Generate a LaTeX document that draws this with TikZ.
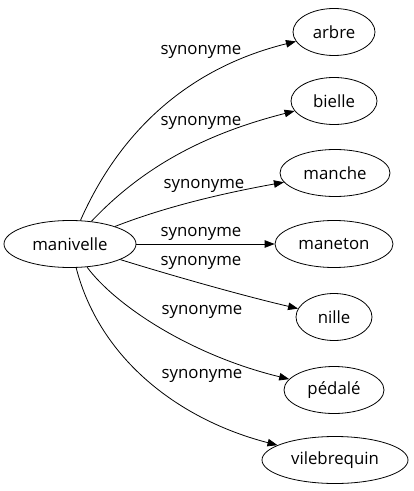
\documentclass[tikz,border=0pt]{standalone}
\usepackage{fontspec}
\setmainfont{Open Sans}
\usetikzlibrary{arrows.meta,shapes.geometric}
\tikzset{
  word/.style={ellipse,draw,line width=0.8bp,minimum height=47bp,inner sep=0pt,font=\fontsize{16.8bp}{18bp}\selectfont},
  rel/.style={line width=0.8bp,-{Triangle[length=10bp,width=7.5bp]}},
  lbl/.style={font=\fontsize{16.8bp}{18bp}\selectfont,inner sep=0pt}
}
\begin{document}
\begin{tikzpicture}[x=1bp,y=-1bp]
\useasboundingbox (0,0) rectangle (413,491);
\node[word,minimum width=132bp] (m) at (70,244) {manivelle};
\node[word,minimum width=82bp] (a) at (334,32) {arbre};
\node[word,minimum width=86bp] (b) at (334,101) {bielle};
\node[word,minimum width=110bp] (c) at (335,173) {manche};
\node[word,minimum width=118bp] (d) at (334,244) {maneton};
\node[word,minimum width=76bp] (e) at (334,317) {nille};
\node[word,minimum width=100bp] (f) at (334,390) {pédalé};
\node[word,minimum width=146bp] (g) at (335,460) {vilebrequin};
\draw[rel] (m) .. controls (105,165) and (160,75) .. (a);
\draw[rel] (m) .. controls (140,170) and (200,135) .. (b);
\draw[rel] (m) .. controls (170,205) and (230,192) .. (c);
\draw[rel] (m) -- (d);
\draw[rel] (m) .. controls (170,275) and (240,295) .. (e);
\draw[rel] (m) .. controls (115,305) and (190,355) .. (f);
\draw[rel] (m) .. controls (100,360) and (180,420) .. (g);
\node[lbl] (l1) at (201,52) {synonyme};
\node[lbl] (l2) at (201,123) {synonyme};
\node[lbl] (l3) at (204,186) {synonyme};
\node[lbl] (l4) at (201,234) {synonyme};
\node[lbl] (l5) at (201,263) {synonyme};
\node[lbl] (l6) at (202,312) {synonyme};
\node[lbl] (l7) at (202,376) {synonyme};
\end{tikzpicture}
\end{document}
